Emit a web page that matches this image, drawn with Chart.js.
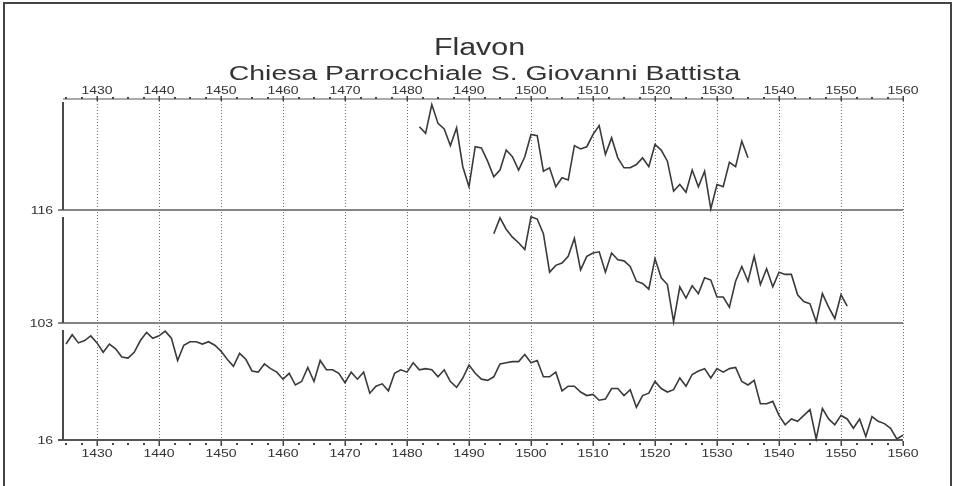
<!DOCTYPE html>
<html>
<head>
<meta charset="utf-8">
<title>Flavon</title>
<script src="https://cdn.jsdelivr.net/npm/chart.js@4/dist/chart.umd.min.js"></script>
<style>
  html, body { margin: 0; padding: 0; background: #fff; }
  canvas { display: block; }
</style>
</head>
<body>
<canvas id="chart" width="956" height="486"></canvas>
<script>
// Titles
const titleText = 'Flavon';
const subtitleText = 'Chiesa Parrocchiale S. Giovanni Battista';

// Decade ticks of the calendar axis and the year span shown
const yearMin = 1425;
const yearMax = 1560;
const yearTicks = [1430, 1440, 1450, 1460, 1470, 1480, 1490, 1500, 1510, 1520, 1530, 1540, 1550, 1560];

// Label written at the foot of each panel (top to bottom)
const panelLabels = ['116', '103', '16'];

// Ring-width index per year, each curve scaled to its own panel (0-100)
const seriesAStart = 1482;
const seriesA = [75, 69, 95, 78, 73, 58, 74, 39, 21, 57,
                 56, 44, 30, 36, 54, 48, 36, 48, 68, 67,
                 35, 38, 21, 29, 27, 58, 55, 57, 68, 76,
                 50, 65, 47, 38, 38, 41, 47, 39, 59, 54,
                 44, 17, 23, 16, 36, 21, 35, 1, 23, 21,
                 43, 39, 62, 47];

const seriesBStart = 1494;
const seriesB = [79, 93, 83, 76, 71, 65, 94, 92, 79, 45,
                 51, 53, 59, 75, 47, 59, 62, 63, 45, 62,
                 56, 55, 50, 37, 35, 30, 57, 40, 34, 1,
                 32, 22, 33, 26, 40, 38, 23, 23, 14, 37,
                 50, 37, 59, 34, 48, 32, 45, 43, 43, 25,
                 19, 17, 1, 26, 14, 4, 25, 15];

const seriesCStart = 1425;
const seriesC = [82, 90, 83, 85, 89, 83, 75, 82, 78, 71,
                 70, 75, 85, 92, 87, 89, 93, 87, 68, 81,
                 84, 84, 82, 84, 81, 76, 69, 63, 74, 69,
                 59, 58, 65, 61, 58, 52, 57, 47, 50, 62,
                 50, 68, 60, 60, 57, 49, 58, 52, 58, 40,
                 46, 48, 42, 57, 60, 58, 66, 60, 61, 60,
                 54, 60, 50, 45, 53, 64, 57, 52, 51, 54,
                 65, 66, 67, 67, 73, 66, 68, 54, 54, 58,
                 42, 46, 46, 41, 38, 39, 34, 35, 44, 44,
                 38, 43, 28, 38, 40, 50, 44, 41, 43, 53,
                 46, 56, 59, 61, 53, 61, 58, 61, 62, 50,
                 47, 51, 31, 31, 33, 21, 13, 18, 16, 21,
                 26, 1, 27, 18, 13, 21, 18, 10, 18, 3,
                 20, 16, 14, 10, 1, 4];

const toPoints = (start, values) => values.map((v, i) => ({ x: start + i, y: v }));

const INK = '#3a3a3a';
const TEXT = '#333333';
const PANEL_IDS = ['y1', 'y2', 'y3'];

// Text in this plot is set wide; draw it with a horizontal stretch
function wideText(ctx, text, x, y, font, sx, align) {
  ctx.save();
  ctx.font = font;
  ctx.textBaseline = 'alphabetic';
  ctx.textAlign = 'left';
  const w = ctx.measureText(text).width * sx;
  const left = align === 'center' ? x - w / 2 : (align === 'right' ? x - w : x);
  ctx.translate(left, y);
  ctx.scale(sx, 1);
  ctx.fillText(text, 0, 0);
  ctx.restore();
}

// panel scales ordered from the top of the chart downwards
const panelScales = chart => PANEL_IDS.map(id => chart.scales[id]).sort((a, b) => a.top - b.top);

const panelFrame = {
  id: 'panelFrame',
  beforeDatasetsDraw(chart) {
    const ctx = chart.ctx;
    const xs = chart.scales.x;
    const panels = panelScales(chart);
    const axisX = xs.left - 3;
    const top = panels[0].top;
    const bottom = panels[2].bottom;
    ctx.save();

    // dotted decade grid
    ctx.strokeStyle = '#707070';
    ctx.lineWidth = 1;
    ctx.setLineDash([1, 2]);
    yearTicks.forEach(yr => {
      const px = Math.round(xs.getPixelForValue(yr)) + 0.5;
      ctx.beginPath();
      ctx.moveTo(px, top + 2);
      ctx.lineTo(px, bottom);
      ctx.stroke();
    });
    ctx.setLineDash([]);

    // separators between the panels
    ctx.strokeStyle = '#858585';
    ctx.lineWidth = 2;
    [panels[0].bottom, panels[1].bottom].forEach(py => {
      ctx.beginPath();
      ctx.moveTo(axisX - 5, py);
      ctx.lineTo(xs.right, py);
      ctx.stroke();
    });

    // top and bottom calendar axes
    ctx.strokeStyle = '#555555';
    ctx.lineWidth = 1.2;
    ctx.beginPath();
    ctx.moveTo(axisX, top);
    ctx.lineTo(xs.right, top);
    ctx.stroke();
    ctx.lineWidth = 2;
    ctx.beginPath();
    ctx.moveTo(axisX - 5, bottom);
    ctx.lineTo(xs.right, bottom);
    ctx.stroke();

    // left axis of each panel
    ctx.strokeStyle = '#4a4a4a';
    ctx.lineWidth = 2;
    panels.forEach((s, i) => {
      ctx.beginPath();
      ctx.moveTo(axisX, s.top + (i === 0 ? 3 : 7));
      ctx.lineTo(axisX, s.bottom);
      ctx.stroke();
    });

    // tick marks: decades crossed, quarter-decades dotted
    ctx.fillStyle = '#444444';
    for (let yr = yearMin; yr <= yearMax + 0.01; yr += 2.5) {
      const px = Math.round(xs.getPixelForValue(yr));
      const major = yr % 10 === 0;
      if (major) {
        ctx.fillRect(px - 0.5, top - 3, 1.5, 5);
        ctx.fillRect(px - 0.5, bottom + 1, 1.5, 5);
      } else {
        ctx.fillRect(px - 1, top - 2, 2, 2);
        ctx.fillRect(px - 1, bottom + 3, 2, 2);
      }
    }
    ctx.restore();
  },
  afterDraw(chart) {
    const ctx = chart.ctx;
    const xs = chart.scales.x;
    const panels = panelScales(chart);
    const top = panels[0].top;
    const bottom = panels[2].bottom;
    const mid = (xs.left + xs.right) / 2;
    ctx.save();
    ctx.fillStyle = TEXT;

    // outer frame
    ctx.strokeStyle = '#444444';
    ctx.lineWidth = 2;
    ctx.strokeRect(4, 3, 947, 600);

    // titles
    wideText(ctx, titleText, mid - 5, 55, '23px "Liberation Sans", Arial, sans-serif', 1.32, 'center');
    wideText(ctx, subtitleText, mid, 80, '20px "Liberation Sans", Arial, sans-serif', 1.42, 'center');

    // decade labels above and below
    const tickFont = '10px "Liberation Sans", Arial, sans-serif';
    yearTicks.forEach(yr => {
      const px = xs.getPixelForValue(yr);
      wideText(ctx, String(yr), px, top - 5, tickFont, 1.4, 'center');
      wideText(ctx, String(yr), px, bottom + 17, tickFont, 1.4, 'center');
    });

    // panel labels
    panels.forEach((s, i) => {
      wideText(ctx, panelLabels[i], xs.left - 13, s.bottom + 4, tickFont, 1.4, 'right');
    });
    ctx.restore();
  }
};

const hiddenAxis = {
  display: true,
  grid: { display: false, drawTicks: false, tickLength: 0 },
  border: { display: false },
  ticks: { display: false, padding: 0 }
};

const lineStyle = {
  borderColor: INK,
  borderWidth: 1.6,
  pointRadius: 0,
  tension: 0,
  fill: false,
  clip: false,
  xAxisID: 'x'
};

new Chart(document.getElementById('chart'), {
  type: 'line',
  data: {
    datasets: [
      Object.assign({ label: 'A', data: toPoints(seriesAStart, seriesA), yAxisID: 'y1' }, lineStyle),
      Object.assign({ label: 'B', data: toPoints(seriesBStart, seriesB), yAxisID: 'y2' }, lineStyle),
      Object.assign({ label: 'C', data: toPoints(seriesCStart, seriesC), yAxisID: 'y3' }, lineStyle)
    ]
  },
  options: {
    responsive: false,
    devicePixelRatio: 1,
    animation: false,
    layout: { padding: { left: 66, right: 53, top: 99, bottom: 46 } },
    plugins: { legend: { display: false }, tooltip: { enabled: false }, title: { display: false } },
    scales: {
      x: Object.assign({ type: 'linear', position: 'bottom', min: yearMin, max: yearMax }, hiddenAxis),
      // left stacks are laid out from the last declared scale downwards
      y3: Object.assign({ type: 'linear', position: 'left', stack: 'panels', stackWeight: 117, min: 0, max: 100 }, hiddenAxis),
      y2: Object.assign({ type: 'linear', position: 'left', stack: 'panels', stackWeight: 113, min: 0, max: 100 }, hiddenAxis),
      y1: Object.assign({ type: 'linear', position: 'left', stack: 'panels', stackWeight: 111, min: 0, max: 100 }, hiddenAxis)
    }
  },
  plugins: [panelFrame]
});
</script>
</body>
</html>
